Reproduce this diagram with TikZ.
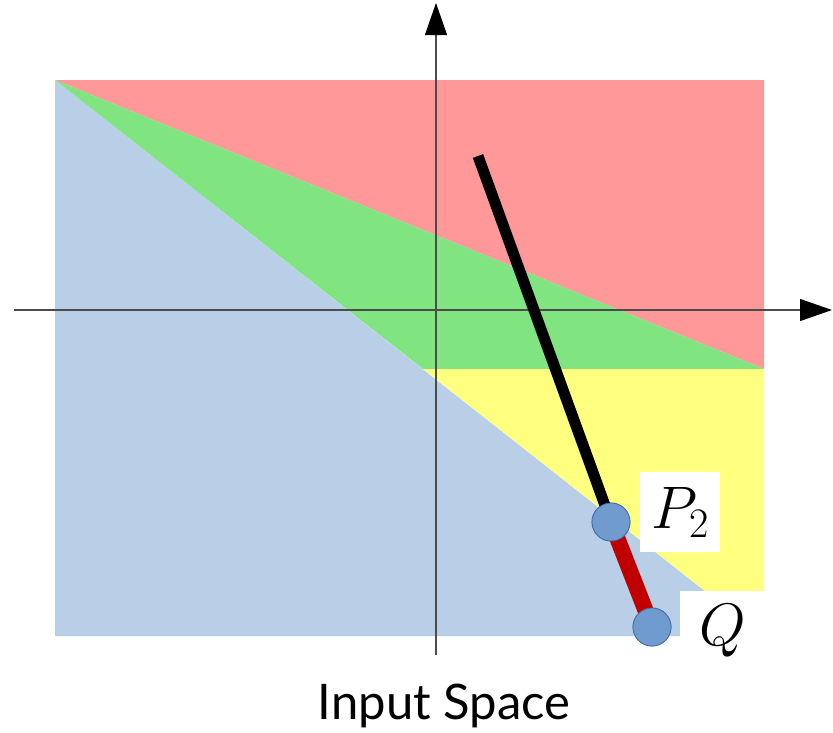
\RequirePackage{fix-cm}
\documentclass[tikz,border=0pt]{standalone}
\usepackage{fontspec}
\newfontfamily\latofont{Lato}
\usepackage{tikz}
\usetikzlibrary{arrows.meta, positioning}
\definecolor{regred}{RGB}{255,153,153}
\definecolor{reggreen}{RGB}{128,229,128}
\definecolor{regblue}{RGB}{185,206,231}
\definecolor{regyellow}{RGB}{255,255,128}
\definecolor{ptfill}{RGB}{112,155,206}
\definecolor{ptdraw}{RGB}{68,110,170}
\definecolor{segred}{RGB}{192,0,0}

\begin{document}
\begin{tikzpicture}[
    x=1pt, y=-1pt,
    axis/.style={-{Triangle[length=32pt, width=22pt, black]}, line width=1.2pt, black!70},
    pt/.style={circle, fill=ptfill, draw=ptdraw, line width=0.8pt, minimum size=38pt, inner sep=0pt},
    ptlabel/.style={fill=white, inner sep=0pt, minimum width=80pt, minimum height=80pt,
                    font=\fontsize{60}{72}\selectfont},
  ]
    \useasboundingbox (0,0) rectangle (833,732);

    % regions of the input space
    \fill[regblue] (55,80) -- (762,636) -- (55,636) -- cycle;
    \fill[regred] (55,80) -- (764,80) -- (764,369) -- cycle;
    \fill[reggreen] (55,80) -- (764,369) -- (423,369) -- cycle;
    \fill[regyellow] (423,369) -- (764,369) -- (764,591) -- (705,591) -- cycle;

    % axes
    \coordinate (xs) at (14,310);
    \coordinate (xe) at (832,310);
    \coordinate (ys) at (436,655);
    \coordinate (ye) at (436,3);
    \draw[axis] (xs) -- (xe);
    \draw[axis] (ys) -- (ye);

    % segment and its points
    \coordinate (start) at (478,156);
    \node[pt] (p2) at (611,522) {};
    \node[pt] (q) at (652,627) {};
    \draw[line width=11pt, black] (start) -- (p2.center);
    \draw[line width=16pt, segred] (p2.center) -- (q.center);
    \node[pt] at (p2) {};
    \node[pt] at (q) {};

    \node[ptlabel] (p2lab) at (680,512) {$P_2$};
    \node[ptlabel, minimum width=86pt] (qlab) at (723,631) {$Q$};

    \node[font=\latofont\fontsize{49}{58}\selectfont] (title) at (444,706) {Input Space};
\end{tikzpicture}
\end{document}
